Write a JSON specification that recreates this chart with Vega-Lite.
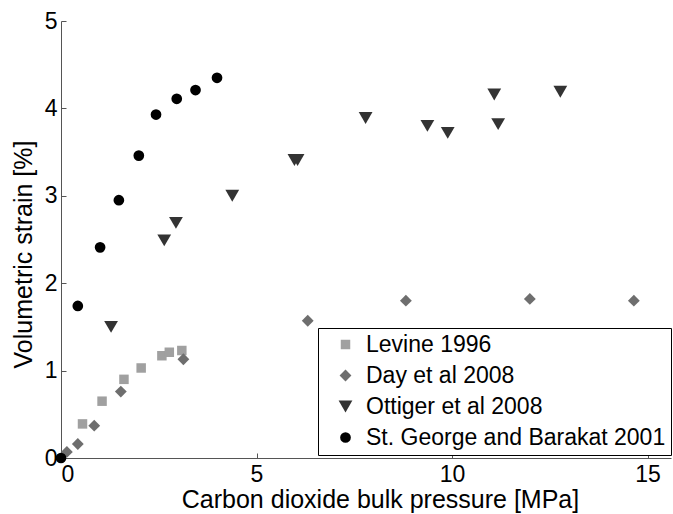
{
  "$schema": "https://vega.github.io/schema/vega-lite/v6.json",
  "width": 610,
  "height": 437,
  "autosize": "none",
  "padding": {"left": 61, "top": 21, "right": 2, "bottom": 56},
  "background": "white",
  "config": {
    "font": "Liberation Sans",
    "view": {"stroke": null},
    "axis": {"grid": false, "domainColor": "#555", "tickColor": "#555", "labelColor": "black", "titleColor": "black", "labelFont": "Liberation Sans", "titleFont": "Liberation Sans", "titleFontWeight": "normal", "labelFontSize": 23, "titleFontSize": 25}
  },
  "data": {"values": [
    {"series": "Levine 1996", "p": 0.55, "s": 0.39},
    {"series": "Levine 1996", "p": 1.05, "s": 0.65},
    {"series": "Levine 1996", "p": 1.61, "s": 0.90},
    {"series": "Levine 1996", "p": 2.05, "s": 1.03},
    {"series": "Levine 1996", "p": 2.58, "s": 1.17},
    {"series": "Levine 1996", "p": 2.77, "s": 1.21},
    {"series": "Levine 1996", "p": 3.09, "s": 1.23},
    {"series": "Day et al 2008", "p": 0.15, "s": 0.07},
    {"series": "Day et al 2008", "p": 0.43, "s": 0.16},
    {"series": "Day et al 2008", "p": 0.85, "s": 0.37},
    {"series": "Day et al 2008", "p": 1.53, "s": 0.76},
    {"series": "Day et al 2008", "p": 3.13, "s": 1.13},
    {"series": "Day et al 2008", "p": 6.31, "s": 1.57},
    {"series": "Day et al 2008", "p": 8.82, "s": 1.80},
    {"series": "Day et al 2008", "p": 11.99, "s": 1.82},
    {"series": "Day et al 2008", "p": 14.65, "s": 1.80},
    {"series": "Ottiger et al 2008", "p": 1.28, "s": 1.50},
    {"series": "Ottiger et al 2008", "p": 2.64, "s": 2.49},
    {"series": "Ottiger et al 2008", "p": 2.94, "s": 2.69},
    {"series": "Ottiger et al 2008", "p": 4.38, "s": 3.00},
    {"series": "Ottiger et al 2008", "p": 5.97, "s": 3.41},
    {"series": "Ottiger et al 2008", "p": 6.05, "s": 3.41},
    {"series": "Ottiger et al 2008", "p": 7.79, "s": 3.89},
    {"series": "Ottiger et al 2008", "p": 9.37, "s": 3.80},
    {"series": "Ottiger et al 2008", "p": 9.89, "s": 3.72},
    {"series": "Ottiger et al 2008", "p": 11.08, "s": 4.16},
    {"series": "Ottiger et al 2008", "p": 11.18, "s": 3.82},
    {"series": "Ottiger et al 2008", "p": 12.77, "s": 4.19},
    {"series": "St. George and Barakat 2001", "p": 0.0, "s": 0.0},
    {"series": "St. George and Barakat 2001", "p": 0.43, "s": 1.74},
    {"series": "St. George and Barakat 2001", "p": 1.0, "s": 2.41},
    {"series": "St. George and Barakat 2001", "p": 1.48, "s": 2.95},
    {"series": "St. George and Barakat 2001", "p": 1.99, "s": 3.46},
    {"series": "St. George and Barakat 2001", "p": 2.43, "s": 3.93},
    {"series": "St. George and Barakat 2001", "p": 2.96, "s": 4.11},
    {"series": "St. George and Barakat 2001", "p": 3.44, "s": 4.21},
    {"series": "St. George and Barakat 2001", "p": 3.99, "s": 4.35}
  ]},
  "mark": {"type": "point", "filled": true, "opacity": 1},
  "encoding": {
    "x": {"field": "p", "type": "quantitative", "scale": {"domain": [0, 15.6], "nice": false, "zero": false}, "axis": {"title": "Carbon dioxide bulk pressure [MPa]", "values": [0, 5, 10, 15], "tickSize": -5, "labelPadding": 10, "titlePadding": 1, "titleX": 319}},
    "y": {"field": "s", "type": "quantitative", "scale": {"domain": [0, 5], "nice": false}, "axis": {"title": "Volumetric  strain [%]", "values": [0, 1, 2, 3, 4, 5], "tickSize": -5, "labelPadding": 9, "titlePadding": 8, "titleY": 233}},
    "color": {"field": "series", "type": "nominal", "scale": {"domain": ["Levine 1996", "Day et al 2008", "Ottiger et al 2008", "St. George and Barakat 2001"], "range": ["#a0a0a0", "#6e6e6e", "#333333", "#000000"]},
      "legend": {"title": null, "orient": "none", "legendX": 257, "legendY": 307, "padding": 5, "symbolOffset": 11, "strokeColor": "black", "fillColor": "white", "labelFontSize": 23, "labelFont": "Liberation Sans", "labelColor": "black", "labelLimit": 500, "rowPadding": 7, "symbolSize": 60, "labelOffset": 9, "symbolOpacity": 1}},
    "shape": {"field": "series", "type": "nominal", "scale": {"domain": ["Levine 1996", "Day et al 2008", "Ottiger et al 2008", "St. George and Barakat 2001"], "range": ["square", "diamond", "triangle-down", "circle"]}},
    "size": {"field": "series", "type": "nominal", "scale": {"type": "ordinal", "domain": ["Levine 1996", "Day et al 2008", "Ottiger et al 2008", "St. George and Barakat 2001"], "range": [90, 140, 190, 115]}, "legend": null}
  }
}
